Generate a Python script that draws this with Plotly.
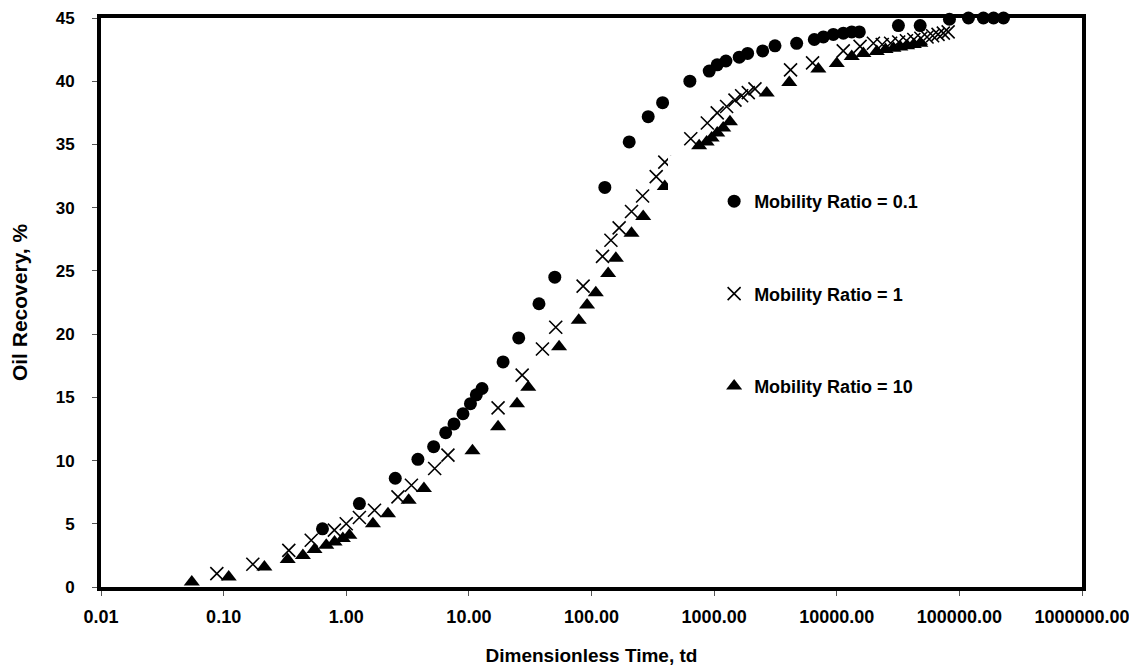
import plotly.graph_objects as go

# Mobility Ratio = 0.1 (circles)
td_m01 = [0.64, 1.28, 2.51, 3.84, 5.16, 6.47, 7.56, 8.95, 10.3, 11.5, 12.8, 19.0, 25.5, 37.3, 50.2,
          128.5, 203, 290, 380, 634, 912, 1059, 1248, 1603, 1876, 2488, 3136, 4710, 6561, 7780,
          9380, 11320, 13250, 15280, 31840, 47900, 83000, 118600, 157000, 190000, 229000]
rec_m01 = [4.6, 6.6, 8.6, 10.1, 11.1, 12.2, 12.9, 13.7, 14.5, 15.2, 15.7, 17.8, 19.7, 22.4, 24.5,
           31.6, 35.2, 37.2, 38.3, 40.0, 40.8, 41.3, 41.6, 41.9, 42.2, 42.4, 42.8, 43.0, 43.3, 43.5,
           43.7, 43.8, 43.9, 43.9, 44.4, 44.4, 44.9, 45.0, 45.0, 45.0, 45.0]

# Mobility Ratio = 1 (crosses)
td_m1 = [0.088, 0.173, 0.34, 0.518, 0.80, 1.0, 1.28, 1.70, 2.64, 3.40, 5.26, 6.75, 17.3, 27.2, 39.8,
         51.1, 85.4, 123, 144, 168, 212, 261, 337, 396, 645, 880, 1060, 1264, 1479, 1676, 1899, 2153,
         4200, 6350, 11300, 15500, 19900, 23500, 27500, 32000, 37000, 42500, 48500, 54500, 60500,
         67000, 74000, 81000]
rec_m1 = [1.06, 1.8, 2.9, 3.7, 4.5, 5.0, 5.5, 6.07, 7.13, 8.05, 9.37, 10.43, 14.17, 16.76, 18.82,
          20.54, 23.8, 26.15, 27.42, 28.4, 29.7, 30.92, 32.46, 33.6, 35.45, 36.7, 37.5, 38.0, 38.5,
          38.85, 39.1, 39.4, 40.9, 41.45, 42.4, 42.76, 43.0, 42.9, 43.0, 43.1, 43.2, 43.3, 43.4, 43.5,
          43.6, 43.7, 43.8, 43.9]

# Mobility Ratio = 10 (triangles)
td_m10 = [0.055, 0.110, 0.215, 0.333, 0.443, 0.551, 0.687, 0.803, 0.938, 1.06, 1.65, 2.19, 3.23,
          4.30, 10.7, 17.3, 24.7, 30.5, 54.4, 78.7, 92.0, 108.4, 136.7, 158, 212, 264, 396, 755,
          869, 955, 1060, 1186, 1346, 2685, 4100, 7080, 10000, 13250, 16500, 21200, 25000, 29000,
          33000, 37500, 42500, 48000]
rec_m10 = [0.4, 0.8, 1.58, 2.17, 2.5, 2.96, 3.3, 3.56, 3.83, 4.1, 5.0, 5.8, 6.87, 7.79, 10.77, 12.67,
           14.5, 15.8, 19.0, 21.1, 22.3, 23.27, 24.8, 26.0, 27.98, 29.3, 31.67, 34.9, 35.2, 35.5,
           35.9, 36.3, 36.8, 39.07, 39.9, 40.97, 41.4, 41.96, 42.2, 42.36, 42.5, 42.6, 42.7, 42.8,
           42.9, 43.0]

x_tickvals = [0.01, 0.1, 1, 10, 100, 1000, 10000, 100000, 1000000]
x_ticktext = ["0.01", "0.10", "1.00", "10.00", "100.00", "1000.00", "10000.00", "100000.00", "1000000.00"]
y_tickvals = [0, 5, 10, 15, 20, 25, 30, 35, 40, 45]

FONT = "Liberation Sans, Arial, sans-serif"

fig = go.Figure()
fig.add_trace(go.Scatter(x=td_m01, y=rec_m01, mode="markers", name="<b>Mobility Ratio = 0.1</b>",
                         legendgroup="a", cliponaxis=False,
                         marker=dict(symbol="circle", size=13, color="black")))
fig.add_trace(go.Scatter(x=td_m1, y=rec_m1, mode="markers", name="<b>Mobility Ratio = 1</b>",
                         legendgroup="b", cliponaxis=False,
                         marker=dict(symbol="x-thin", size=13, color="black",
                                     line=dict(width=1.6, color="black"))))
fig.add_trace(go.Scatter(x=td_m10, y=rec_m10, mode="markers", name="<b>Mobility Ratio = 10</b>",
                         legendgroup="c", cliponaxis=False,
                         marker=dict(symbol="triangle-up", size=14, color="black")))

fig.update_layout(
    width=1137, height=669,
    margin=dict(l=93, r=63, t=10, b=90, autoexpand=False),
    paper_bgcolor="white", plot_bgcolor="white",
    font=dict(family=FONT, size=16, color="black"),
    showlegend=True,
    legend=dict(x=0.625, y=0.71, xanchor="left", yanchor="top",
                bgcolor="rgba(0,0,0,0)", tracegroupgap=66,
                font=dict(family=FONT, size=18, color="black")),
    shapes=[dict(type="rect", xref="paper", yref="paper", x0=0.578, x1=0.93, y0=0.29, y1=0.759,
                 fillcolor="white", line=dict(width=0), layer="above")],
)
fig.update_xaxes(type="log", range=[-2, 6], tickvals=x_tickvals,
                 ticktext=["<b>%s</b>" % t for t in x_ticktext],
                 showgrid=False, zeroline=False, showline=True, mirror=True,
                 linecolor="black", linewidth=4, ticks="outside", ticklen=5,
                 tickcolor="#555555", tickwidth=1, ticklabelstandoff=5,
                 tickfont=dict(family=FONT, size=18, color="black"),
                 title=dict(text="<b>Dimensionless Time, td</b>", standoff=24,
                            font=dict(family=FONT, size=19, color="black")))
fig.update_yaxes(range=[0, 45], tickvals=y_tickvals,
                 ticktext=["<b>%d</b>" % v for v in y_tickvals],
                 showgrid=False, zeroline=False, showline=True, mirror=True,
                 linecolor="black", linewidth=4, ticks="outside", ticklen=5,
                 tickcolor="#555555", tickwidth=1, ticklabelstandoff=14,
                 tickfont=dict(family=FONT, size=17, color="black"),
                 title=dict(text="<b>Oil Recovery, %</b>", standoff=30,
                            font=dict(family=FONT, size=21, color="black")))

fig.write_html("out.html")
